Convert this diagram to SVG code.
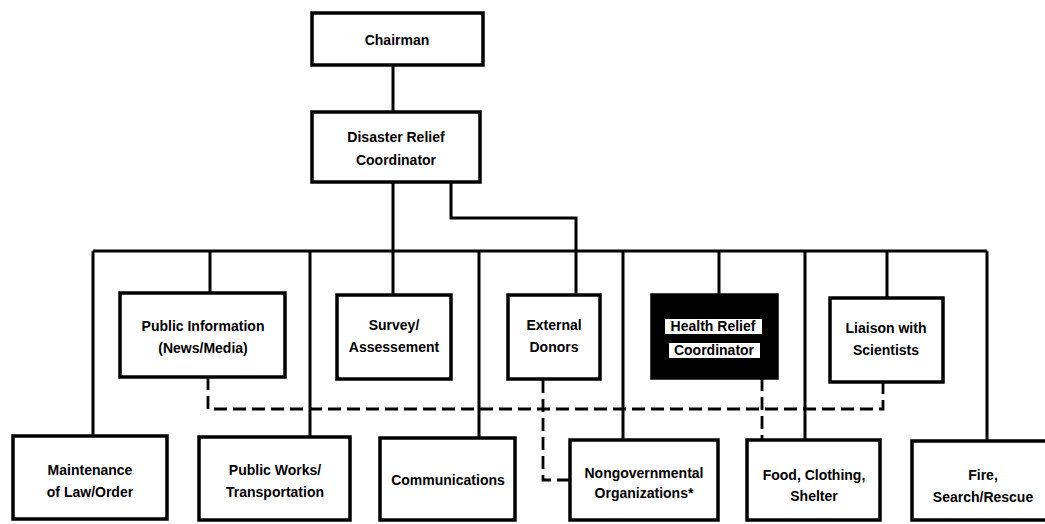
<svg xmlns="http://www.w3.org/2000/svg" width="1045" height="524" viewBox="0 0 1045 524">
<style>
.box{fill:#fff;stroke:#000;stroke-width:3.5}
.dark{fill:#000;stroke:#000;stroke-width:3.5}
.lbl{font-family:"Liberation Sans",Arial,sans-serif;font-weight:bold;font-size:14px;text-anchor:middle;fill:#000}
.ln{fill:none;stroke:#000;stroke-width:3}
.dash{fill:none;stroke:#000;stroke-width:2.8;stroke-dasharray:13 6}
</style>
<rect width="1045" height="524" fill="#fff"/>
<g id="connectors">
<path class="ln" d="M393 65V112"/>
<path class="ln" d="M393 182V295"/>
<path class="ln" d="M451 182V218H576V295"/>
<path class="ln" d="M93 251H987"/>
<path class="ln" d="M93 251V436"/>
<path class="ln" d="M210 251V293"/>
<path class="ln" d="M310 251V437"/>
<path class="ln" d="M479 251V438"/>
<path class="ln" d="M623 251V440"/>
<path class="ln" d="M719 251V295"/>
<path class="ln" d="M805 251V440"/>
<path class="ln" d="M887 251V298"/>
<path class="ln" d="M987 251V441"/>
<path class="dash" d="M208 377V409H883V383"/>
<path class="dash" d="M543 380V480H570"/>
<path class="dash" d="M762 378V440"/>
</g>
<g id="chairman">
<rect class="box" x="312" y="13" width="171" height="52"/>
<text class="lbl" x="397" y="45">Chairman</text>
</g>
<g id="drc">
<rect class="box" x="312" y="112" width="168" height="70"/>
<text class="lbl" x="396" y="142">Disaster Relief</text>
<text class="lbl" x="396" y="165">Coordinator</text>
</g>
<g id="public-info">
<rect class="box" x="120" y="293" width="165" height="84"/>
<text class="lbl" x="203" y="331">Public Information</text>
<text class="lbl" x="203" y="353">(News/Media)</text>
</g>
<g id="survey">
<rect class="box" x="337" y="295" width="114" height="84"/>
<text class="lbl" x="394" y="330">Survey/</text>
<text class="lbl" x="394" y="352">Assessement</text>
</g>
<g id="external-donors">
<rect class="box" x="508" y="295" width="92" height="84"/>
<text class="lbl" x="554" y="330">External</text>
<text class="lbl" x="554" y="352">Donors</text>
</g>
<g id="health-relief">
<rect class="dark" x="652" y="295" width="125" height="83"/>
<rect x="665" y="319" width="97" height="15" fill="#fff"/>
<rect x="669" y="343" width="91" height="15" fill="#fff"/>
<text class="lbl" x="713" y="331">Health Relief</text>
<text class="lbl" x="714" y="355">Coordinator</text>
</g>
<g id="liaison">
<rect class="box" x="830" y="298" width="113" height="84"/>
<text class="lbl" x="886" y="333">Liaison with</text>
<text class="lbl" x="886" y="355">Scientists</text>
</g>
<g id="maintenance">
<rect class="box" x="13" y="436" width="154" height="83"/>
<text class="lbl" x="90" y="475">Maintenance</text>
<text class="lbl" x="90" y="497">of Law/Order</text>
</g>
<g id="public-works">
<rect class="box" x="199" y="437" width="151" height="83"/>
<text class="lbl" x="275" y="475">Public Works/</text>
<text class="lbl" x="275" y="497">Transportation</text>
</g>
<g id="communications">
<rect class="box" x="380" y="438" width="135" height="82"/>
<text class="lbl" x="448" y="485">Communications</text>
</g>
<g id="ngo">
<rect class="box" x="570" y="440" width="148" height="80"/>
<text class="lbl" x="644" y="478">Nongovernmental</text>
<text class="lbl" x="644" y="498">Organizations*</text>
</g>
<g id="food">
<rect class="box" x="747" y="440" width="133" height="80"/>
<text class="lbl" x="814" y="480">Food, Clothing,</text>
<text class="lbl" x="814" y="501">Shelter</text>
</g>
<g id="fire">
<rect class="box" x="912" y="441" width="140" height="79"/>
<text class="lbl" x="983" y="480">Fire,</text>
<text class="lbl" x="983" y="502">Search/Rescue</text>
</g>
</svg>
